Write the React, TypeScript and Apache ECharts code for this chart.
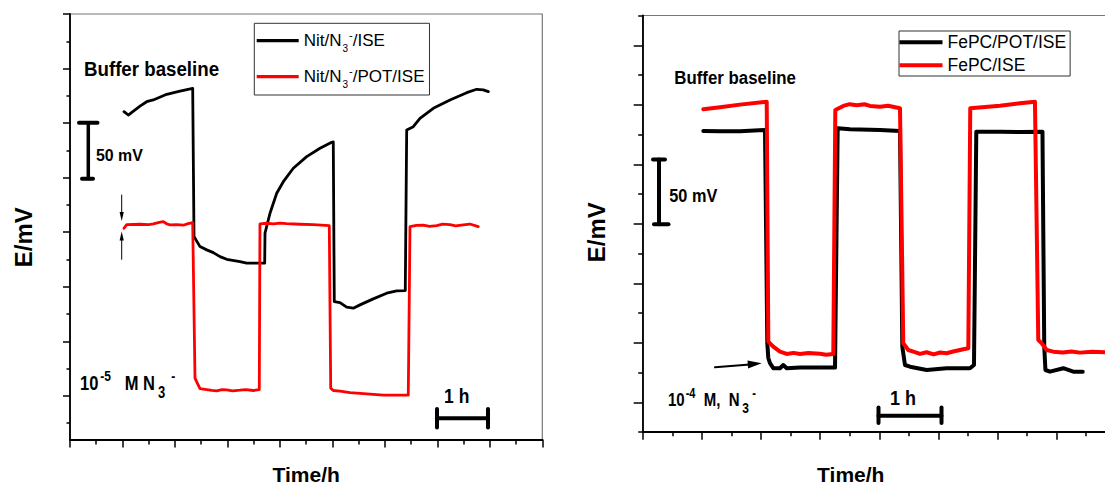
import React, { useEffect, useRef } from "react";
import * as echarts from "echarts";

const FONT = "'Liberation Sans', Arial, Helvetica, sans-serif";

// ---------- series names ----------
const leftNames = ["Nit/N3-/ISE", "Nit/N3-/POT/ISE"];
const rightNames = ["FePC/POT/ISE", "FePC/ISE"];

// ---------- data: [time (h), potential (mV, arbitrary offset)] ----------
const leftIse: number[][] = [
  [1.029, 260.5], [1.11, 257.4], [1.334, 265.5], [1.461, 269.6], [1.587, 271.2], [1.843, 276.4], [2.096, 279.4], [2.338, 281.9],
  [2.363, 146.0], [2.382, 144.5], [2.477, 136.8], [2.605, 133.8], [2.731, 131.3], [2.858, 127.6], [2.986, 125.2], [3.239, 123.0], [3.367, 121.6], [3.659, 121.6], [3.71, 121.6],
  [3.716, 149.1], [3.811, 167.4], [3.939, 185.7], [4.065, 196.3], [4.255, 208.6], [4.51, 219.3], [4.764, 226.9], [4.987, 232.4], [5.017, 232.7],
  [5.036, 86.4], [5.145, 85.5], [5.272, 81.3], [5.398, 80.4], [5.526, 83.4], [5.779, 88.9], [6.035, 94.1], [6.225, 96.2], [6.389, 96.5],
  [6.416, 243.7], [6.542, 246.7], [6.669, 254.4], [6.923, 263.6], [7.241, 271.2], [7.559, 277.9], [7.75, 281.0], [7.875, 280.4], [7.971, 278.8],
];

const leftPot: number[][] = [
  [1.029, 153.6], [1.08, 156.9], [1.334, 157.3], [1.5, 157.0], [1.587, 157.6], [1.7, 159.0], [1.778, 159.7], [1.85, 157.5], [1.905, 156.7], [2.033, 156.9], [2.159, 156.4], [2.25, 157.8], [2.338, 158.8],
  [2.382, 16.2], [2.426, 11.6], [2.477, 6.7], [2.605, 5.8], [2.7, 5.0], [2.795, 4.6], [2.9, 5.8], [2.986, 5.5], [3.1, 4.6], [3.239, 5.2], [3.35, 5.8], [3.493, 4.9], [3.607, 5.8],
  [3.62, 157.6], [3.75, 158.2], [3.874, 157.6], [4.0, 158.4], [4.129, 157.9], [4.383, 157.3], [4.636, 156.9], [4.941, 156.0],
  [4.968, 7.1], [5.017, 4.9], [5.145, 4.3], [5.335, 3.0], [5.654, 1.8], [5.97, 0.6], [6.288, 0.6], [6.446, 0.6],
  [6.479, 155.1], [6.6, 156.2], [6.732, 156.4], [6.85, 155.3], [6.988, 156.0], [7.1, 157.4], [7.241, 156.9], [7.35, 155.8], [7.494, 156.7], [7.62, 157.5], [7.78, 155.1],
];

const rightPot: number[][] = [
  [1.025, 228.0], [1.307, 227.7], [1.645, 227.7], [2.068, 228.8],
  [2.107, 49.6], [2.124, 37.2], [2.152, 32.8], [2.208, 28.6], [2.321, 28.6], [2.377, 31.3], [2.435, 28.6], [2.66, 29.1], [2.998, 29.1], [3.252, 29.1],
  [3.297, 230.3], [3.505, 229.4], [4.012, 228.8], [4.351, 228.0],
  [4.39, 46.7], [4.435, 31.3], [4.52, 29.9], [4.802, 27.1], [5.14, 28.6], [5.534, 28.6], [5.602, 31.3],
  [5.641, 227.4], [6.042, 227.4], [6.38, 227.1], [6.76, 227.4],
  [6.79, 46.7], [6.81, 27.1], [6.887, 25.7], [7.112, 28.6], [7.281, 25.7], [7.441, 25.7],
];

const rightIse: number[][] = [
  [1.025, 246.2], [1.307, 247.9], [1.645, 250.1], [2.097, 252.6],
  [2.124, 50.9], [2.208, 46.7], [2.321, 42.5], [2.435, 40.6], [2.55, 41.5], [2.66, 40.6], [2.8, 41.3], [2.998, 40.8], [3.1, 40.0], [3.223, 40.6],
  [3.257, 245.6], [3.392, 249.0], [3.5, 250.5], [3.619, 249.6], [3.75, 250.4], [3.843, 249.0], [4.012, 248.4], [4.15, 249.2], [4.351, 247.1],
  [4.406, 49.6], [4.491, 43.9], [4.576, 42.5], [4.689, 40.6], [4.8, 42.0], [4.92, 40.2], [5.03, 41.8], [5.14, 41.2], [5.25, 42.6], [5.421, 44.5], [5.506, 45.4],
  [5.539, 247.1], [6.042, 249.2], [6.38, 251.3], [6.633, 252.6],
  [6.689, 52.4], [6.747, 49.6], [6.831, 43.9], [6.943, 42.5], [7.1, 41.8], [7.25, 42.6], [7.394, 41.7], [7.6, 42.5], [7.9, 41.7],
];

// ---------- axis ranges & ticks ----------
const leftXRange = [0, 9];
const leftYRange = [-40, 350];
const rightXRange = [0, 8];
const rightYRange = [-25, 325];
const leftXMajor = [0, 1, 2, 3, 4, 5, 6, 7, 8, 9];
const leftXMinor = [0.5, 1.5, 2.5, 3.5, 4.5, 5.5, 6.5, 7.5, 8.5];
const leftYMajor = [0, 50, 100, 150, 200, 250, 300, 350];
const leftYMinor = [-25, 25, 75, 125, 175, 225, 275, 325];
const rightXMajor = [0, 1, 2, 3, 4, 5, 6, 7, 8];
const rightXMinor = [0.5, 1.5, 2.5, 3.5, 4.5, 5.5, 6.5, 7.5];
const rightYMajor = [0, 50, 100, 150, 200, 250, 300];
const rightYMinor = [-25, 25, 75, 125, 175, 225, 275, 325];

const xTitle = "Time/h";
const yTitle = "E/mV";

function axis(
  dim: "x" | "y",
  gridIndex: number,
  range: number[],
  ticks: number[],
  len: number,
  showLine: boolean,
  name?: string,
  nameGap?: number,
  namePad?: number[]
): any {
  return {
    type: "value",
    gridIndex,
    min: range[0],
    max: range[1],
    position: dim === "x" ? "bottom" : "left",
    offset: 0,
    axisLine: { show: showLine, onZero: false, lineStyle: { color: "#000", width: 1.8 } },
    axisTick: { show: true, customValues: ticks, length: len, lineStyle: { color: "#000", width: 1.5 } },
    axisLabel: { show: false },
    splitLine: { show: false },
    name: name || "",
    nameLocation: "middle",
    nameGap: nameGap || 0,
    nameRotate: dim === "y" ? 90 : 0,
    nameTextStyle: {
      fontFamily: FONT,
      fontWeight: "bold",
      fontSize: dim === "y" ? 24 : 21,
      color: "#000",
      padding: namePad || [0, 0, 0, 0],
    },
  };
}

function legendFormatter(name: string) {
  const idx = name.indexOf("N3-");
  if (idx < 0) return `{n|${name}}`;
  const a = name.slice(0, idx);
  const b = name.slice(idx + 3);
  return `{n|${a}N}{sub|3}{sup|-}{n|${b}}`;
}

const legendRich = (fs: number, lh: number) => ({
  n: { fontSize: fs, fontFamily: FONT, color: "#000", lineHeight: lh, verticalAlign: "middle" },
  sub: { fontSize: 10, fontFamily: FONT, color: "#000", lineHeight: 10, verticalAlign: "bottom", padding: [0, 0, 1, 1] },
  sup: { fontSize: 11, fontFamily: FONT, color: "#000", lineHeight: 11, verticalAlign: "top", padding: [3, 0, 0, 1] },
});

function txt(x: number, y: number, text: string, fontSize: number, scaleY: number, align = "left", rich?: any): any {
  return {
    type: "text",
    x,
    y,
    scaleY,
    style: {
      text,
      fontFamily: FONT,
      fontWeight: "bold",
      fontSize,
      fill: "#000",
      align,
      verticalAlign: "middle",
      rich,
    },
  };
}

function seg(x1: number, y1: number, x2: number, y2: number, w: number): any {
  return {
    type: "line",
    shape: { x1, y1, x2, y2 },
    style: { stroke: "#000", lineWidth: w, lineCap: "round" },
  };
}

function tri(points: number[][]): any {
  return { type: "polygon", shape: { points }, style: { fill: "#000" } };
}

const richLeftConc = {
  n: { fontSize: 16.5, fontFamily: FONT, fontWeight: "bold", color: "#000", lineHeight: 29 },
  sup: { fontSize: 12, fontFamily: FONT, fontWeight: "bold", color: "#000", lineHeight: 12, verticalAlign: "top", padding: [2.5, 0, 0, 2] },
  sub: { fontSize: 13, fontFamily: FONT, fontWeight: "bold", color: "#000", lineHeight: 13, verticalAlign: "bottom", padding: [0, 0, 0, 3] },
  sup2: { fontSize: 12, fontFamily: FONT, fontWeight: "bold", color: "#000", lineHeight: 12, verticalAlign: "top", padding: [2.5, 0, 0, 6] },
};

const richRightConc = {
  n: { fontSize: 15, fontFamily: FONT, fontWeight: "bold", color: "#000", lineHeight: 25 },
  sup: { fontSize: 11, fontFamily: FONT, fontWeight: "bold", color: "#000", lineHeight: 11, verticalAlign: "top", padding: [1.3, 0, 0, 1] },
  sub: { fontSize: 12, fontFamily: FONT, fontWeight: "bold", color: "#000", lineHeight: 12, verticalAlign: "bottom", padding: [0, 0, 0, 2.5] },
  sup2: { fontSize: 11, fontFamily: FONT, fontWeight: "bold", color: "#000", lineHeight: 11, verticalAlign: "top", padding: [1.3, 0, 0, 3.5] },
};

const option: any = {
  animation: false,
  backgroundColor: "#fff",
  grid: [
    { left: 70, top: 14, width: 472.3, height: 425.5, show: true, borderColor: "#777", borderWidth: 1.2, backgroundColor: "transparent", outerBoundsMode: "none", containLabel: false },
    { left: 642.7, top: 15.5, width: 473.1, height: 416.5, show: true, borderColor: "#777", borderWidth: 1.2, backgroundColor: "transparent", outerBoundsMode: "none", containLabel: false },
  ],
  xAxis: [
    axis("x", 0, leftXRange, leftXMajor, 8, true, xTitle, 24.5, [0, 0, 0, 0]),
    axis("x", 0, leftXRange, leftXMinor, 5, false),
    axis("x", 1, rightXRange, rightXMajor, 7.7, true, xTitle, 32, [0, 57, 0, 0]),
    axis("x", 1, rightXRange, rightXMinor, 4.3, false),
  ],
  yAxis: [
    axis("y", 0, leftYRange, leftYMajor, 7, true, yTitle, 34.7, [0, 21, 0, 0]),
    axis("y", 0, leftYRange, leftYMinor, 3.5, false),
    axis("y", 1, rightYRange, rightYMajor, 9, true, yTitle, 34, [0, 17, 0, 0]),
    axis("y", 1, rightYRange, rightYMinor, 4.5, false),
  ],
  legend: [
    {
      data: leftNames.map((n) => ({ name: n, icon: "rect" })),
      orient: "vertical",
      left: 254.3,
      top: 23.3,
      padding: [3.4, 5, 4.3, 2.4],
      itemGap: 8,
      itemWidth: 42,
      itemHeight: 3.2,
      borderColor: "#333",
      borderWidth: 1,
      selectedMode: false,
      formatter: legendFormatter,
      textStyle: { fontFamily: FONT, fontSize: 17, color: "#000", rich: legendRich(17, 28) },
    },
    {
      data: rightNames.map((n) => ({ name: n, icon: "rect" })),
      orient: "vertical",
      left: 899,
      top: 31,
      padding: [2.3, 4, 1.7, 0.5],
      itemGap: 5,
      itemWidth: 43,
      itemHeight: 4,
      borderColor: "#333",
      borderWidth: 1,
      selectedMode: false,
      formatter: legendFormatter,
      textStyle: { fontFamily: FONT, fontSize: 17.5, color: "#000", rich: legendRich(17.5, 20) },
    },
  ],
  series: [
    { name: leftNames[0], type: "line", xAxisIndex: 0, yAxisIndex: 0, data: leftIse, symbol: "none", lineStyle: { color: "#000", width: 2.8, cap: "round", join: "round" }, itemStyle: { color: "#000" } },
    { name: leftNames[1], type: "line", xAxisIndex: 0, yAxisIndex: 0, data: leftPot, symbol: "none", lineStyle: { color: "#ff0000", width: 2.8, cap: "round", join: "round" }, itemStyle: { color: "#ff0000" } },
    { name: rightNames[0], type: "line", xAxisIndex: 2, yAxisIndex: 2, data: rightPot, symbol: "none", lineStyle: { color: "#000", width: 4, cap: "round", join: "round" }, itemStyle: { color: "#000" } },
    { name: rightNames[1], type: "line", xAxisIndex: 2, yAxisIndex: 2, data: rightIse, symbol: "none", lineStyle: { color: "#ff0000", width: 4, cap: "round", join: "round" }, itemStyle: { color: "#ff0000" } },
  ],
  graphic: {
    elements: [
      // left panel annotations
      txt(84, 68.9, "Buffer baseline", 18.7, 1.07),
      seg(88.3, 122.7, 88.3, 178.7, 3.5),
      seg(79, 122.7, 97.5, 122.7, 4),
      seg(82, 178.7, 93, 178.7, 4),
      txt(96, 155.5, "50 mV", 15.9, 1.09),
      seg(121.7, 195, 121.7, 213, 1),
      tri([[119.6, 212], [123.8, 212], [121.7, 221]]),
      seg(121.7, 259.3, 121.7, 240, 1),
      tri([[119.6, 240.5], [123.8, 240.5], [121.7, 231.5]]),
      txt(80, 383, "{n|10}{sup|-5}{n|   M N}{sub|3}{sup2|-}", 16.5, 1.2, "left", richLeftConc),
      seg(437, 418.3, 488, 418.3, 4),
      seg(437, 409, 437, 427.5, 4),
      seg(488, 409, 488, 427.5, 4),
      txt(456.7, 396.3, "1 h", 17.5, 1.15, "center"),
      // right panel annotations
      txt(674.3, 77.5, "Buffer baseline", 16.85, 1.13),
      seg(659, 159.5, 659, 224.3, 4),
      seg(653, 159.5, 665, 159.5, 4),
      seg(654, 224.3, 668.5, 224.3, 4),
      txt(669.3, 195.5, "50 mV", 16.3, 1.1),
      seg(715, 367.3, 750, 364.4, 2),
      tri([[761.7, 363.3], [748.1, 368.5], [747.5, 360.5]]),
      txt(668, 400.3, "{n|10}{sup|-4}{n|  M,  N}{sub|3}{sup2|-}", 15, 1.25, "left", richRightConc),
      seg(878.5, 415.7, 941.5, 415.7, 4),
      seg(878.5, 407.5, 878.5, 423, 4),
      seg(941.5, 407.5, 941.5, 423, 4),
      txt(903, 397.5, "1 h", 18, 1.15, "center"),
    ],
  },
};

export default function App() {
  const ref = useRef<HTMLDivElement>(null);
  useEffect(() => {
    if (!ref.current) return;
    const chart = echarts.init(ref.current, null, { renderer: "svg" });
    chart.setOption(option);
    return () => chart.dispose();
  }, []);
  return (
    <div
      style={{ position: "absolute", left: 0, top: 0, width: 1105, height: 486, overflow: "hidden", background: "#fff" }}
    >
      <div ref={ref} style={{ width: 1130, height: 486 }} />
    </div>
  );
}
